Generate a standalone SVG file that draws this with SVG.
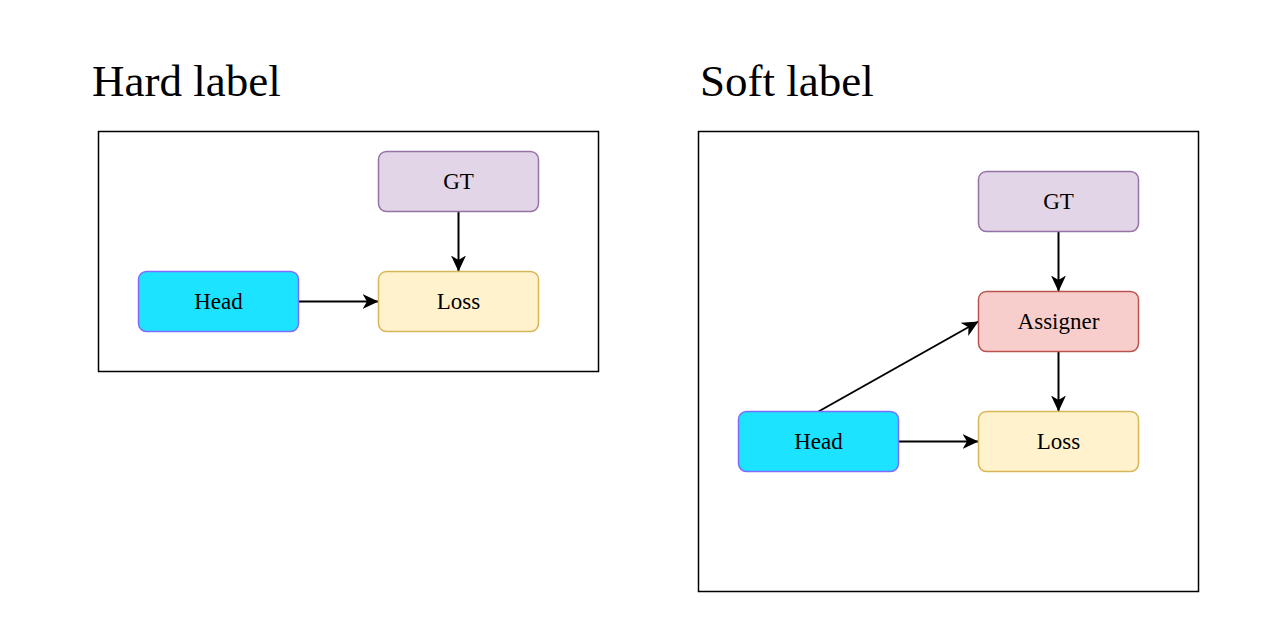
<svg xmlns="http://www.w3.org/2000/svg" width="1263" height="640" viewBox="0 0 1263 640">
<style>
.title{font-family:"Liberation Serif","Times New Roman",serif;font-size:45px;fill:#000}
.lbl{font-family:"Liberation Serif","Times New Roman",serif;font-size:23px;fill:#000;text-anchor:middle}
.frame{fill:#fff;stroke:#000;stroke-width:1.5}
.gt{fill:#e1d5e7;stroke:#9673a6;stroke-width:1.5}
.head{fill:#1ce3ff;stroke:#7f6bff;stroke-width:1.5}
.loss{fill:#fff2cc;stroke:#d6b656;stroke-width:1.5}
.asg{fill:#f8cecc;stroke:#b85450;stroke-width:1.5}
.edge{fill:none;stroke:#000;stroke-width:2;marker-end:url(#arr)}
</style>
<defs>
<marker id="arr" markerUnits="userSpaceOnUse" viewBox="0 0 16 16" refX="16" refY="8" markerWidth="16" markerHeight="16" orient="auto">
<path d="M0,0.5 L16,8 L0,15.5 L4.5,8 z" fill="#000"/>
</marker>
</defs>
<rect width="1263" height="640" fill="#fff"/>
<text class="title" x="92" y="96">Hard label</text>
<text class="title" x="700" y="96">Soft label</text>
<g id="hard-frame"><rect class="frame" x="98.5" y="131.5" width="500" height="240"/></g>
<g id="soft-frame"><rect class="frame" x="698.5" y="131.5" width="500" height="460"/></g>
<g id="connectors">
<path class="edge" d="M458.5,211.5 L458.5,271.5"/>
<path class="edge" d="M298.5,301.5 L378.5,301.5"/>
<path class="edge" d="M1058.5,231.5 L1058.5,291.5"/>
<path class="edge" d="M1058.5,351.5 L1058.5,411.5"/>
<path class="edge" d="M898.5,441.5 L978.5,441.5"/>
<path class="edge" d="M818.5,411.5 L978.5,321.5"/>
</g>
<g id="h-gt"><rect class="gt" x="378.5" y="151.5" width="160" height="60" rx="8"/><text class="lbl" x="458.5" y="188.5">GT</text></g>
<g id="h-head"><rect class="head" x="138.5" y="271.5" width="160" height="60" rx="8"/><text class="lbl" x="218.5" y="308.5">Head</text></g>
<g id="h-loss"><rect class="loss" x="378.5" y="271.5" width="160" height="60" rx="8"/><text class="lbl" x="458.5" y="308.5">Loss</text></g>
<g id="s-gt"><rect class="gt" x="978.5" y="171.5" width="160" height="60" rx="8"/><text class="lbl" x="1058.5" y="208.5">GT</text></g>
<g id="s-assigner"><rect class="asg" x="978.5" y="291.5" width="160" height="60" rx="8"/><text class="lbl" x="1058.5" y="328.5">Assigner</text></g>
<g id="s-head"><rect class="head" x="738.5" y="411.5" width="160" height="60" rx="8"/><text class="lbl" x="818.5" y="448.5">Head</text></g>
<g id="s-loss"><rect class="loss" x="978.5" y="411.5" width="160" height="60" rx="8"/><text class="lbl" x="1058.5" y="448.5">Loss</text></g>
</svg>
